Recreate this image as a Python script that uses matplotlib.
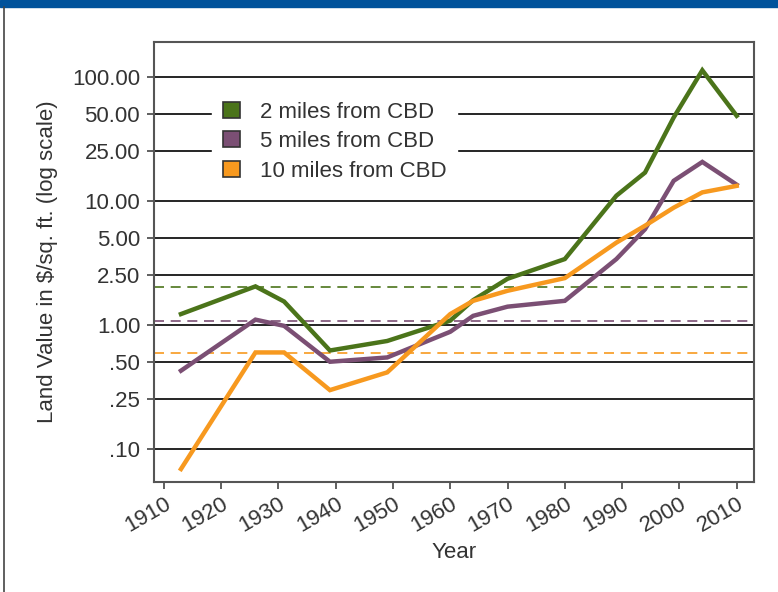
import matplotlib.pyplot as plt
from matplotlib.patches import Patch, Rectangle
from matplotlib.lines import Line2D

years = [1913, 1926, 1931, 1939, 1949, 1960, 1964, 1970, 1980, 1989, 1994, 1999, 2004, 2010]
two_miles = [1.22, 2.04, 1.54, 0.62, 0.74, 1.08, 1.58, 2.35, 3.39, 11.0, 16.9, 47.0, 113.0, 48.5]
five_miles = [0.426, 1.10, 0.98, 0.503, 0.545, 0.878, 1.18, 1.40, 1.56, 3.39, 5.9, 14.5, 20.6, 13.5]
ten_miles = [0.0686, 0.598, 0.598, 0.297, 0.413, 1.22, 1.56, 1.88, 2.38, 4.6, 6.3, 8.8, 11.7, 13.2]
ref_levels = [2.02, 1.08, 0.587]

series_names = ['2 miles from CBD', '5 miles from CBD', '10 miles from CBD']
colors = ['#4b741a', '#7b4f74', '#f7991f']
ytick_vals = [0.1, 0.25, 0.5, 1, 2.5, 5, 10, 25, 50, 100]
ytick_labels = ['.10', '.25', '.50', '1.00', '2.50', '5.00', '10.00', '25.00', '50.00', '100.00']
xtick_vals = list(range(1910, 2011, 10))

plt.rcParams['font.family'] = ['Liberation Sans', 'DejaVu Sans']
text_color = '#333333'

fig = plt.figure(figsize=(7.78, 5.92), dpi=100)
ax = fig.add_axes([0.198, 0.186, 0.771, 0.743])

# top bar and left frame line
fig.patches.append(Rectangle((0, 0.988), 1, 0.012, transform=fig.transFigure,
                             color='#00529b', zorder=0))
fig.add_artist(Line2D([0.005, 0.005], [0, 0.988], transform=fig.transFigure,
                      color='#444444', linewidth=1.2))

ax.set_yscale('log')
for v in ytick_vals:
    ax.axhline(v, color='black', linewidth=1.2, zorder=1)
for lvl, c in zip(ref_levels, colors):
    ax.axhline(lvl, color=c, linewidth=1.2, linestyle=(0, (6, 4)), zorder=1)

for vals, c in zip([two_miles, five_miles, ten_miles], colors):
    ax.plot(years, vals, color=c, linewidth=3.2, solid_joinstyle='miter', zorder=3)

ax.set_xlim(1908.3, 2013)
ax.set_ylim(0.054, 191)
ax.set_yticks(ytick_vals)
ax.set_yticklabels(ytick_labels)
ax.minorticks_off()
ax.set_xticks(xtick_vals)
ax.set_xticklabels([str(y) for y in xtick_vals], rotation=30, ha='right',
                   rotation_mode='anchor')
ax.tick_params(axis='both', labelsize=16, colors='#444444', labelcolor=text_color,
               length=5, width=1.2)
ax.tick_params(axis='y', pad=5)
for s in ax.spines.values():
    s.set_color('#555555')
    s.set_linewidth(1.5)

ax.set_xlabel('Year', fontsize=16, color=text_color, labelpad=4)
ax.set_ylabel('Land Value in $/sq. ft. (log scale)', fontsize=16, color=text_color, labelpad=10)

handles = [Patch(facecolor=c, edgecolor='#333333', linewidth=1.2) for c in colors]
leg = ax.legend(handles, series_names, loc='upper left', bbox_to_anchor=(0.078, 0.915),
                fontsize=16, frameon=True, facecolor='white', edgecolor='white',
                framealpha=1, handlelength=0.75, handleheight=0.75, labelspacing=0.38,
                handletextpad=0.9, borderpad=0.5, fancybox=False)
for t in leg.get_texts():
    t.set_color(text_color)
leg.set_zorder(5)

fig.savefig('out.png', dpi=100)
